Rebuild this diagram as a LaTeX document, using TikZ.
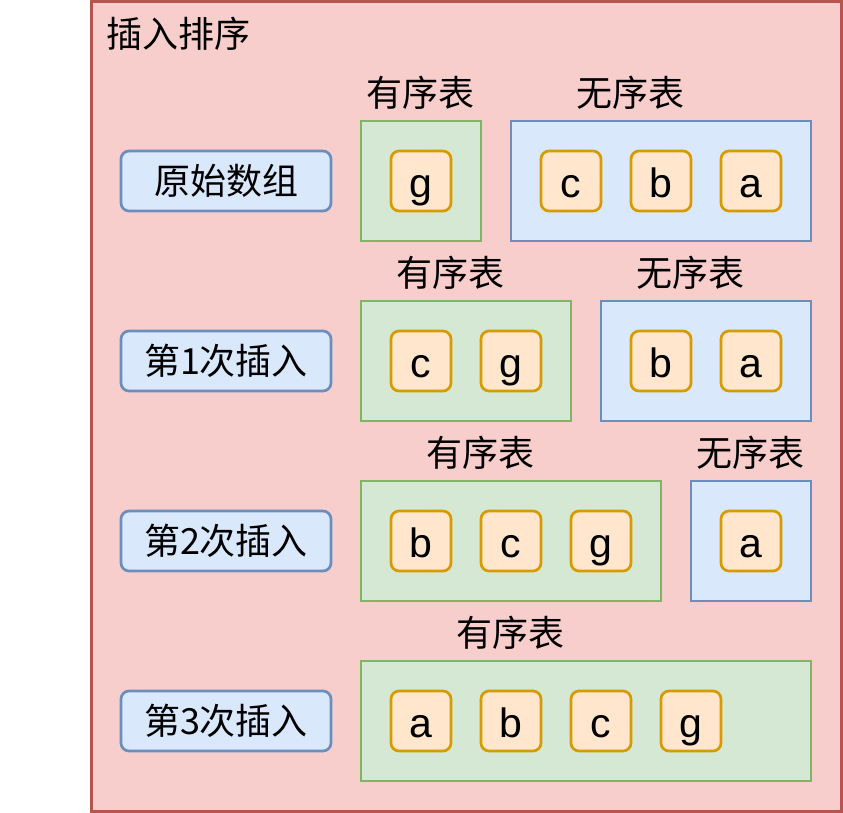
\documentclass[tikz,border=0pt]{standalone}
\usepackage{fontspec}
\setmainfont{Liberation Sans}
\newfontfamily\cjk{Noto Sans CJK SC}
\definecolor{outerfill}{HTML}{F8CECC}
\definecolor{outerline}{HTML}{B85450}
\definecolor{bluefill}{HTML}{DAE8FC}
\definecolor{blueline}{HTML}{6C8EBF}
\definecolor{greenfill}{HTML}{D5E8D4}
\definecolor{greenline}{HTML}{82B366}
\definecolor{orangefill}{HTML}{FFE6CC}
\definecolor{orangeline}{HTML}{D79B00}
\tikzset{
	stagebox/.style={draw=blueline, fill=bluefill, line width=2.7pt, rounded corners=8pt,
		minimum width=210pt, minimum height=60pt, font=\cjk\fontsize{36}{40}\selectfont},
	sorted/.style={draw=greenline, fill=greenfill, line width=2.7pt, minimum height=120pt},
	unsorted/.style={draw=blueline, fill=bluefill, line width=2.7pt, minimum height=120pt},
	elem/.style={draw=orangeline, fill=orangefill, line width=2.7pt, rounded corners=8pt,
		minimum width=60pt, minimum height=60pt, inner sep=0pt, text height=33pt, text depth=0pt,
		font=\fontsize{41}{44}\selectfont},
	caption/.style={font=\cjk\fontsize{36}{40}\selectfont}
}
\begin{document}
\begin{tikzpicture}[x=1pt, y=-1pt]
	\useasboundingbox (0,0) rectangle (843,813);
	\node[draw=outerline, fill=outerfill, line width=3pt, minimum width=750pt, minimum height=809pt] (frame) at (466,406.5) {};
	\node[caption, anchor=west, inner sep=0pt] (title) at (106,34) {插入排序};
	
	% labels of the steps
	\node[stagebox] (s0) at (226,181) {原始数组};
	\node[stagebox] (s1) at (226,361) {第1次插入};
	\node[stagebox] (s2) at (226,541) {第2次插入};
	\node[stagebox] (s3) at (226,721) {第3次插入};
	
	% original array
	\node[caption] (o0) at (420,93) {有序表};
	\node[caption] (u0) at (630,93) {无序表};
	\node[sorted, minimum width=120pt] (g0) at (421,181) {};
	\node[unsorted, minimum width=300pt] (b0) at (661,181) {};
	\node[elem] (e0g) at (421,181) {g};
	\node[elem] (e0c) at (571,181) {c};
	\node[elem] (e0b) at (661,181) {b};
	\node[elem] (e0a) at (751,181) {a};
	
	% first insertion
	\node[caption] (o1) at (450,273) {有序表};
	\node[caption] (u1) at (690,273) {无序表};
	\node[sorted, minimum width=210pt] (g1) at (466,361) {};
	\node[unsorted, minimum width=210pt] (b1) at (706,361) {};
	\node[elem] (e1c) at (421,361) {c};
	\node[elem] (e1g) at (511,361) {g};
	\node[elem] (e1b) at (661,361) {b};
	\node[elem] (e1a) at (751,361) {a};
	
	% second insertion
	\node[caption] (o2) at (480,453) {有序表};
	\node[caption] (u2) at (750,453) {无序表};
	\node[sorted, minimum width=300pt] (g2) at (511,541) {};
	\node[unsorted, minimum width=120pt] (b2) at (751,541) {};
	\node[elem] (e2b) at (421,541) {b};
	\node[elem] (e2c) at (511,541) {c};
	\node[elem] (e2g) at (601,541) {g};
	\node[elem] (e2a) at (751,541) {a};
	
	% third insertion
	\node[caption] (o3) at (510,633) {有序表};
	\node[sorted, minimum width=450pt] (g3) at (586,721) {};
	\node[elem] (e3a) at (421,721) {a};
	\node[elem] (e3b) at (511,721) {b};
	\node[elem] (e3c) at (601,721) {c};
	\node[elem] (e3g) at (691,721) {g};
\end{tikzpicture}
\end{document}
